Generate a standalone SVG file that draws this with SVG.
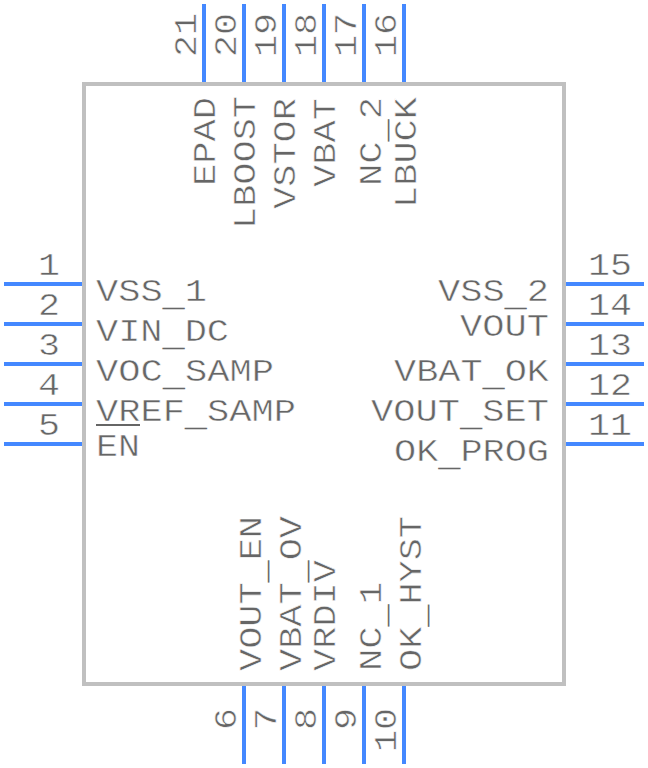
<svg xmlns="http://www.w3.org/2000/svg" width="648" height="768" viewBox="0 0 648 768">
<style>
.p{stroke:#4488ff;stroke-width:4;fill:none}
.t,.n{font-family:"Liberation Mono",monospace;font-size:32px;fill:#666666;stroke:#ffffff;stroke-width:.5px}
.u{stroke:none}
.e{text-anchor:end}
</style>
<rect width="648" height="768" fill="#ffffff"/>
<g id="connectors">
<path class="p" d="M4 284H84M4 324H84M4 364H84M4 404H84M4 444H84M564 284H644M564 324H644M564 364H644M564 404H644M564 444H644M244 684V764M284 684V764M324 684V764M364 684V764M404 684V764M204 4V84M244 4V84M284 4V84M324 4V84M364 4V84M404 4V84"/>
</g>
<g id="body"><rect x="84" y="84" width="480" height="600" fill="none" stroke="#c0c0c0" stroke-width="4"/></g>
<g id="pin1"><text class="n e" x="60" y="275" textLength="22" lengthAdjust="spacingAndGlyphs">1</text><text class="t" x="96" y="301" textLength="111" lengthAdjust="spacingAndGlyphs">VSS<tspan class="u" dy="5">_</tspan><tspan dy="-5">1</tspan></text></g>
<g id="pin2"><text class="n e" x="60" y="315" textLength="22" lengthAdjust="spacingAndGlyphs">2</text><text class="t" x="96" y="341" textLength="133" lengthAdjust="spacingAndGlyphs">VIN<tspan class="u" dy="5">_</tspan><tspan dy="-5">DC</tspan></text></g>
<g id="pin3"><text class="n e" x="60" y="355" textLength="22" lengthAdjust="spacingAndGlyphs">3</text><text class="t" x="96" y="381" textLength="178" lengthAdjust="spacingAndGlyphs">VOC<tspan class="u" dy="5">_</tspan><tspan dy="-5">SAMP</tspan></text></g>
<g id="pin4"><text class="n e" x="60" y="395" textLength="22" lengthAdjust="spacingAndGlyphs">4</text><text class="t" x="96" y="421" textLength="200" lengthAdjust="spacingAndGlyphs">VREF<tspan class="u" dy="5">_</tspan><tspan dy="-5">SAMP</tspan></text></g>
<g id="pin5"><text class="n e" x="60" y="435" textLength="22" lengthAdjust="spacingAndGlyphs">5</text><text class="t" x="96" y="456" textLength="44" lengthAdjust="spacingAndGlyphs">EN</text><path d="M96 425H140" stroke="#666666" stroke-width="2"/></g>
<g id="pin15"><text class="n e" x="632" y="275" textLength="44" lengthAdjust="spacingAndGlyphs">15</text><text class="t e" x="549" y="301" textLength="111" lengthAdjust="spacingAndGlyphs">VSS<tspan class="u" dy="5">_</tspan><tspan dy="-5">2</tspan></text></g>
<g id="pin14"><text class="n e" x="632" y="315" textLength="44" lengthAdjust="spacingAndGlyphs">14</text><text class="t e" x="549" y="336" textLength="89" lengthAdjust="spacingAndGlyphs">VOUT</text></g>
<g id="pin13"><text class="n e" x="632" y="355" textLength="44" lengthAdjust="spacingAndGlyphs">13</text><text class="t e" x="549" y="381" textLength="155" lengthAdjust="spacingAndGlyphs">VBAT<tspan class="u" dy="5">_</tspan><tspan dy="-5">OK</tspan></text></g>
<g id="pin12"><text class="n e" x="632" y="395" textLength="44" lengthAdjust="spacingAndGlyphs">12</text><text class="t e" x="549" y="421" textLength="178" lengthAdjust="spacingAndGlyphs">VOUT<tspan class="u" dy="5">_</tspan><tspan dy="-5">SET</tspan></text></g>
<g id="pin11"><text class="n e" x="632" y="435" textLength="44" lengthAdjust="spacingAndGlyphs">11</text><text class="t e" x="549" y="461" textLength="155" lengthAdjust="spacingAndGlyphs">OK<tspan class="u" dy="5">_</tspan><tspan dy="-5">PROG</tspan></text></g>
<g id="pin21"><text class="n" transform="translate(196 57) rotate(-90)" textLength="44" lengthAdjust="spacingAndGlyphs">21</text><text class="t" transform="translate(215 186) rotate(-90)" textLength="89" lengthAdjust="spacingAndGlyphs">EPAD</text></g>
<g id="pin20"><text class="n" transform="translate(236 57) rotate(-90)" textLength="44" lengthAdjust="spacingAndGlyphs">20</text><text class="t" transform="translate(255 229) rotate(-90)" textLength="133" lengthAdjust="spacingAndGlyphs">LBOOST</text></g>
<g id="pin19"><text class="n" transform="translate(276 57) rotate(-90)" textLength="44" lengthAdjust="spacingAndGlyphs">19</text><text class="t" transform="translate(295 209) rotate(-90)" textLength="111" lengthAdjust="spacingAndGlyphs">VSTOR</text></g>
<g id="pin18"><text class="n" transform="translate(316 57) rotate(-90)" textLength="44" lengthAdjust="spacingAndGlyphs">18</text><text class="t" transform="translate(335 187) rotate(-90)" textLength="89" lengthAdjust="spacingAndGlyphs">VBAT</text></g>
<g id="pin17"><text class="n" transform="translate(356 57) rotate(-90)" textLength="44" lengthAdjust="spacingAndGlyphs">17</text><text class="t" transform="translate(381 186) rotate(-90)" textLength="89" lengthAdjust="spacingAndGlyphs">NC<tspan class="u" dy="5">_</tspan><tspan dy="-5">2</tspan></text></g>
<g id="pin16"><text class="n" transform="translate(396 57) rotate(-90)" textLength="44" lengthAdjust="spacingAndGlyphs">16</text><text class="t" transform="translate(416 208) rotate(-90)" textLength="111" lengthAdjust="spacingAndGlyphs">LBUCK</text></g>
<g id="pin6"><text class="n e" transform="translate(236 708) rotate(-90)" textLength="22" lengthAdjust="spacingAndGlyphs">6</text><text class="t" transform="translate(261 671) rotate(-90)" textLength="155" lengthAdjust="spacingAndGlyphs">VOUT<tspan class="u" dy="5">_</tspan><tspan dy="-5">EN</tspan></text></g>
<g id="pin7"><text class="n e" transform="translate(276 708) rotate(-90)" textLength="22" lengthAdjust="spacingAndGlyphs">7</text><text class="t" transform="translate(301 671) rotate(-90)" textLength="155" lengthAdjust="spacingAndGlyphs">VBAT<tspan class="u" dy="5">_</tspan><tspan dy="-5">OV</tspan></text></g>
<g id="pin8"><text class="n e" transform="translate(316 708) rotate(-90)" textLength="22" lengthAdjust="spacingAndGlyphs">8</text><text class="t" transform="translate(335 671) rotate(-90)" textLength="111" lengthAdjust="spacingAndGlyphs">VRDIV</text></g>
<g id="pin9"><text class="n e" transform="translate(356 708) rotate(-90)" textLength="22" lengthAdjust="spacingAndGlyphs">9</text><text class="t" transform="translate(381 671) rotate(-90)" textLength="89" lengthAdjust="spacingAndGlyphs">NC<tspan class="u" dy="5">_</tspan><tspan dy="-5">1</tspan></text></g>
<g id="pin10"><text class="n e" transform="translate(396 708) rotate(-90)" textLength="44" lengthAdjust="spacingAndGlyphs">10</text><text class="t" transform="translate(421 671) rotate(-90)" textLength="155" lengthAdjust="spacingAndGlyphs">OK<tspan class="u" dy="5">_</tspan><tspan dy="-5">HYST</tspan></text></g>
</svg>
